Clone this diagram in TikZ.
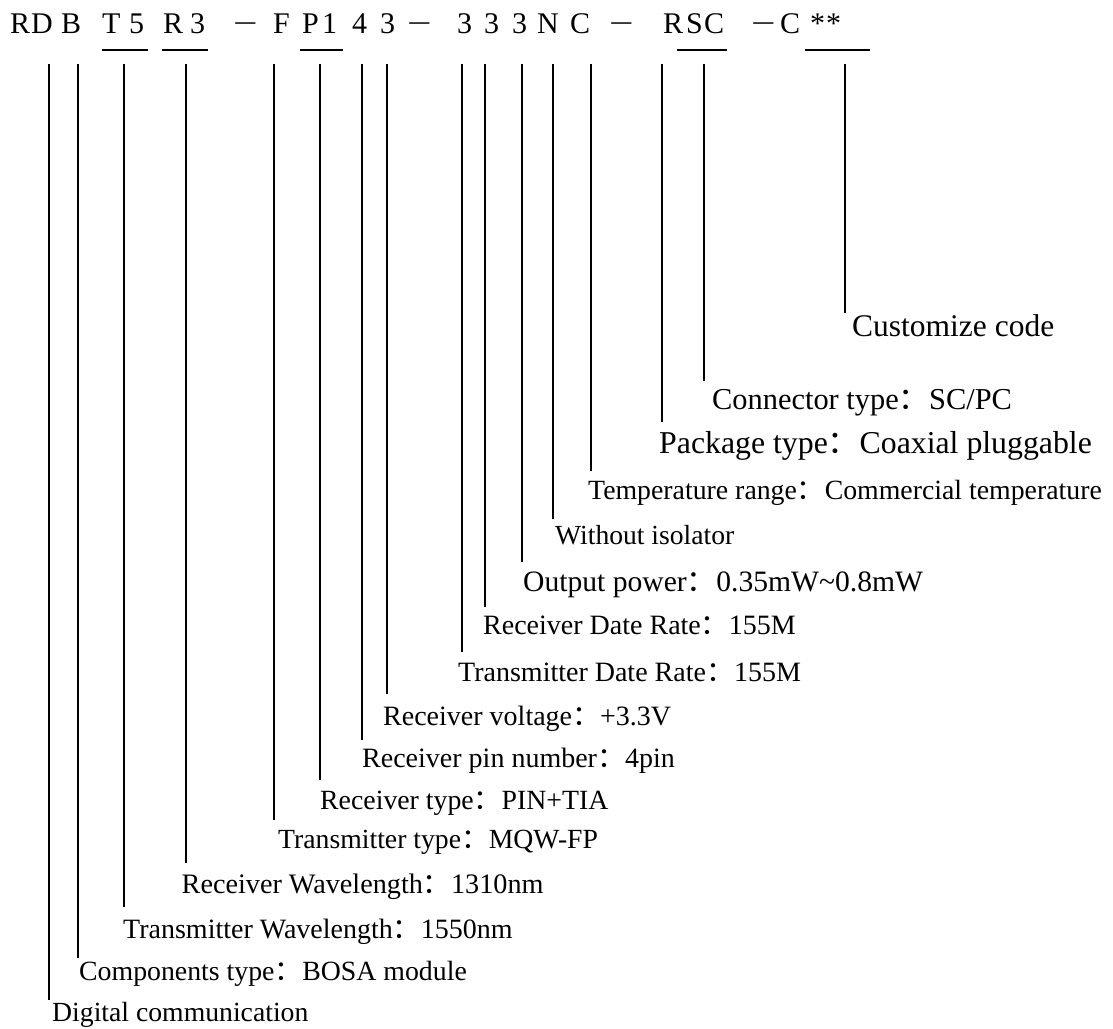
\documentclass[tikz,border=0pt]{standalone}
\usepackage{fontspec}
\setmainfont{Liberation Serif}
\newfontfamily\cjk{Noto Sans CJK SC}
\newcommand{\cc}{{\cjk ：}}
\newcommand{\mn}{\scalebox{1.45}[1]{−}}
\tikzset{
  fs/.style={font=\fontsize{#1}{#1}\selectfont},
  code/.style={anchor=base west, inner sep=0pt, fs=30},
  lab/.style={anchor=base west, inner sep=0pt},
  lead/.style={line width=1.3pt},
  uline/.style={line width=1.3pt},
}
\begin{document}
\begin{tikzpicture}[x=1pt,y=-1pt]
\useasboundingbox (0,0) rectangle (1113,1028);
% code characters
\foreach \n/\x/\t in {1/10/R,2/31/D,3/61/B,4/102/T,5/129/5,6/163/R,7/190/3,8/233/\mn,9/273/F,10/302/P,11/322/1,12/352/4,13/380/3,14/407/\mn,15/457/3,16/484/3,17/512/3,18/537/N,19/570/C,20/609/\mn,21/663/R,22/686/S,23/704/C,24/751/\mn,25/780/C,26/810/*,27/826/*}
  {\node[code] (c\n) at (\x,33) {\t};}
% underlines
\foreach \n/\a/\b in {1/102/148,2/162/208,3/300/343,4/677/727,5/805/870}
  {\coordinate (u\n a) at (\a,50); \coordinate (u\n b) at (\b,50); \draw[uline] (u\n a) -- (u\n b);}
% labels
\node[lab,fs=27.7] (l1) at (52,1021.5) {Digital communication};
\node[lab,fs=27.8] (l2) at (79,980) {Components type\cc BOSA module};
\node[lab,fs=28] (l3) at (123,938) {Transmitter Wavelength\cc 1550nm};
\node[lab,fs=28.2] (l4) at (181.5,893) {Receiver Wavelength\cc 1310nm};
\node[lab,fs=27.7] (l5) at (278,848) {Transmitter type\cc MQW-FP};
\node[lab,fs=27.8] (l6) at (320,809) {Receiver type\cc PIN+TIA};
\node[lab,fs=28] (l7) at (362,767.5) {Receiver pin number\cc 4pin};
\node[lab,fs=28] (l8) at (383,725) {Receiver voltage\cc +3.3V};
\node[lab,fs=28] (l9) at (458,681) {Transmitter Date Rate\cc 155M};
\node[lab,fs=28] (l10) at (483,634) {Receiver Date Rate\cc 155M};
\node[lab,fs=29.6] (l11) at (523,591) {Output power\cc 0.35mW\textasciitilde 0.8mW};
\node[lab,fs=27.6] (l12) at (555,544) {Without isolator};
\node[lab,fs=27.8] (l13) at (588,499) {Temperature range\cc Commercial temperature};
\node[lab,fs=31.8] (l14) at (659,453.5) {Package type\cc Coaxial pluggable};
\node[lab,fs=30.4] (l15) at (712,409) {Connector type\cc SC/PC};
\node[lab,fs=31.5] (l16) at (852,336) {Customize code};
% leader lines
\foreach \n/\x/\y in {1/49/1000,2/78/958,3/124/907,4/186/863,5/274/820,6/320/780,7/362/740,8/387/694,9/462/652,10/485/607,11/522/562,12/553/519,13/591/471,14/662/422,15/704/381,16/845/313}
  {\coordinate (a\n) at (\x,64); \coordinate (b\n) at (\x,\y); \draw[lead] (a\n) -- (b\n);}
\end{tikzpicture}
\end{document}
